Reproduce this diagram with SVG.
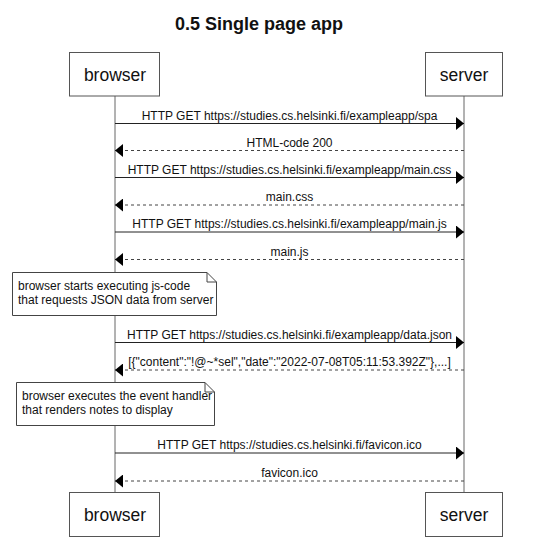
<svg xmlns="http://www.w3.org/2000/svg" width="556" height="544" viewBox="0 0 556 544">
  <style>
    text { font-family: "Liberation Sans", Arial, sans-serif; fill: #111; }
    .title { font-size: 18px; font-weight: bold; text-anchor: middle; }
    .actor rect { fill: #fff; stroke: #555; stroke-width: 1; }
    .actor text { font-size: 17.5px; text-anchor: middle; }
    .lifeline { stroke: #666; stroke-width: 1; }
    .msg { stroke: #222; stroke-width: 1; fill: none; marker-end: url(#arrow); }
    .reply { stroke: #444; stroke-dasharray: 3 3; }
    .label { font-size: 12px; text-anchor: middle; }
    .note path { fill: #fff; stroke: #444; stroke-width: 1; }
    .note text { font-size: 12px; }
  </style>
  <defs>
    <marker id="arrow" markerUnits="userSpaceOnUse" markerWidth="8" markerHeight="13" refX="8" refY="6.5" orient="auto">
      <path d="M0,0 L8,6.5 L0,13 z" fill="#000"/>
    </marker>
  </defs>

  <rect width="556" height="544" fill="#fff"/>

  <text class="title" x="259" y="30">0.5 Single page app</text>

  <!-- lifelines -->
  <g id="lifelines">
    <line class="lifeline" x1="115" y1="96" x2="115" y2="492"/>
    <line class="lifeline" x1="464" y1="96" x2="464" y2="492"/>
  </g>

  <!-- participants -->
  <g id="browser-top" class="actor">
    <rect x="69.5" y="52.5" width="90" height="43.5"/>
    <text x="115" y="80.5">browser</text>
  </g>
  <g id="server-top" class="actor">
    <rect x="425.5" y="52.5" width="77" height="43.5"/>
    <text x="464" y="80.5">server</text>
  </g>
  <g id="browser-bottom" class="actor">
    <rect x="69.5" y="492.5" width="90" height="44"/>
    <text x="115" y="520.5">browser</text>
  </g>
  <g id="server-bottom" class="actor">
    <rect x="425.5" y="492.5" width="77" height="44"/>
    <text x="464" y="520.5">server</text>
  </g>

  <!-- notes -->
  <g id="note-js" class="note">
    <path d="M12.5,272.5 H207 L216.5,282 V315.5 H12.5 Z M207,272.5 V282 H216.5"/>
    <text x="18" y="290">browser starts executing js-code</text>
    <text x="18" y="304">that requests JSON data from server</text>
  </g>
  <g id="note-render" class="note">
    <path d="M16.5,382.5 H205 L214.5,392 V425.5 H16.5 Z M205,382.5 V392 H214.5"/>
    <text x="22" y="400">browser executes the event handler</text>
    <text x="22" y="414">that renders notes to display</text>
  </g>

  <!-- messages -->
  <g id="connectors">
    <line class="msg" x1="115" y1="123.5" x2="464" y2="123.5"/>
    <line class="msg reply" x1="464" y1="150.5" x2="115" y2="150.5"/>
    <line class="msg" x1="115" y1="177.5" x2="464" y2="177.5"/>
    <line class="msg reply" x1="464" y1="205" x2="115" y2="205"/>
    <line class="msg" x1="115" y1="232" x2="464" y2="232"/>
    <line class="msg reply" x1="464" y1="259.5" x2="115" y2="259.5"/>
    <line class="msg" x1="115" y1="342.5" x2="464" y2="342.5"/>
    <line class="msg reply" x1="464" y1="370" x2="115" y2="370"/>
    <line class="msg" x1="115" y1="453" x2="464" y2="453"/>
    <line class="msg reply" x1="464" y1="481" x2="115" y2="481"/>
  </g>

  <g id="labels">
    <text class="label" x="289.5" y="119.5">HTTP GET https://studies.cs.helsinki.fi/exampleapp/spa</text>
    <text class="label" x="289.5" y="146.5">HTML-code 200</text>
    <text class="label" x="289.5" y="173.5">HTTP GET https://studies.cs.helsinki.fi/exampleapp/main.css</text>
    <text class="label" x="289.5" y="201">main.css</text>
    <text class="label" x="289.5" y="228">HTTP GET https://studies.cs.helsinki.fi/exampleapp/main.js</text>
    <text class="label" x="289.5" y="255.5">main.js</text>
    <text class="label" x="289.5" y="338.5">HTTP GET https://studies.cs.helsinki.fi/exampleapp/data.json</text>
    <text class="label" x="289.5" y="366">[{"content":"!@~*sel","date":"2022-07-08T05:11:53.392Z"},...]</text>
    <text class="label" x="289.5" y="449">HTTP GET https://studies.cs.helsinki.fi/favicon.ico</text>
    <text class="label" x="289.5" y="477">favicon.ico</text>
  </g>
</svg>
